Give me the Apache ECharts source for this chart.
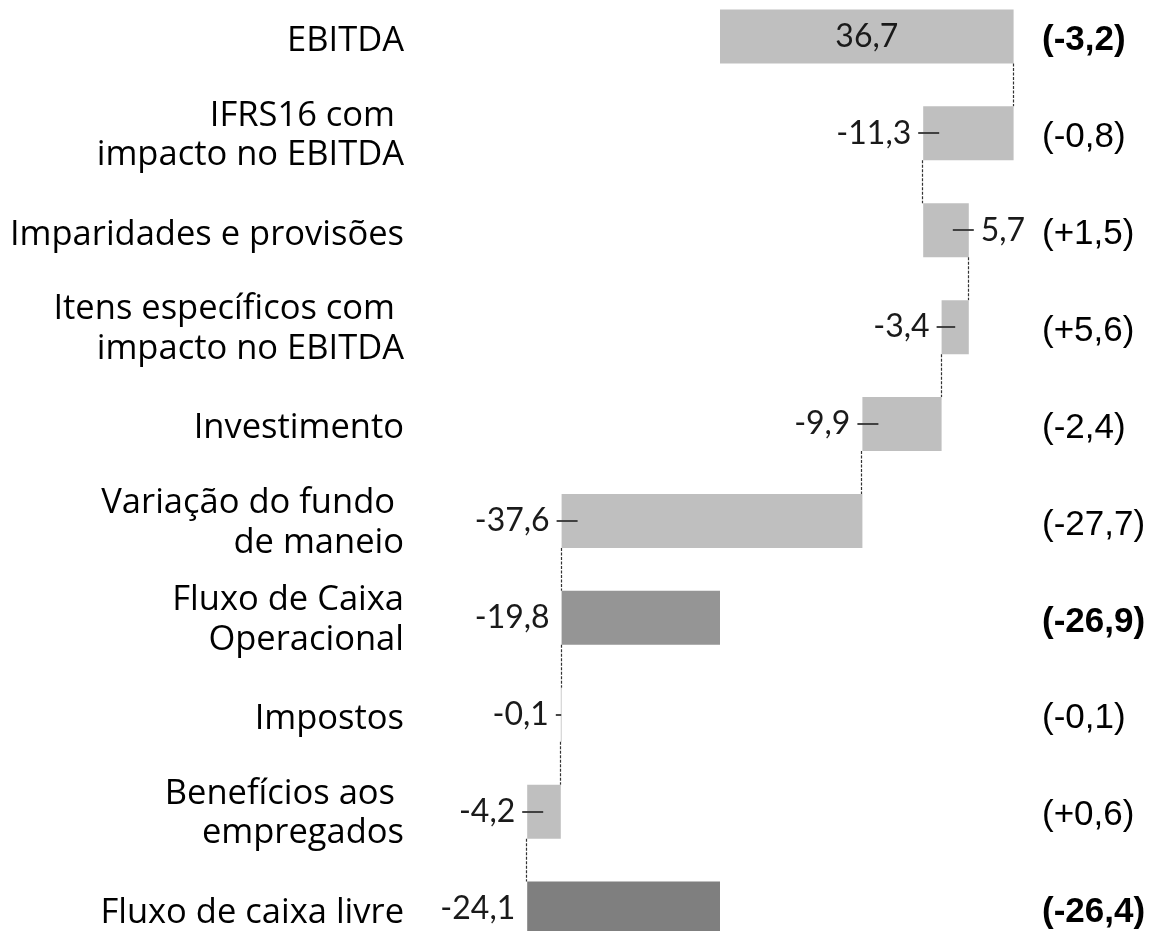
<!DOCTYPE html>
<html><head><meta charset="utf-8">
<script src="https://cdn.jsdelivr.net/npm/echarts@6/dist/echarts.min.js"></script>
<style>html,body{margin:0;padding:0;background:#fff}#c{width:1156px;height:931px}</style>
</head><body><div id="c"></div>
<script>
// ---- data ----
const categories = [
  'EBITDA',
  'IFRS16 com \nimpacto no EBITDA',
  'Imparidades e provisões',
  'Itens específicos com \nimpacto no EBITDA',
  'Investimento',
  'Variação do fundo \nde maneio',
  'Fluxo de Caixa\nOperacional',
  'Impostos',
  'Benefícios aos \nempregados',
  'Fluxo de caixa livre'
];
const values = [36.7, -11.3, 5.7, -3.4, -9.9, -37.6, -19.8, -0.1, -4.2, -24.1];
const isTotal = [true, false, false, false, false, false, true, false, false, true];
const changeLabels = ['(-3,2)', '(-0,8)', '(+1,5)', '(+5,6)', '(-2,4)', '(-27,7)', '(-26,9)', '(-0,1)', '(+0,6)', '(-26,4)'];

// ---- styles ----
const barColors = ['#bfbfbf', '#bfbfbf', '#bfbfbf', '#bfbfbf', '#bfbfbf', '#bfbfbf', '#959595', '#bfbfbf', '#bfbfbf', '#7f7f7f'];

// waterfall ranges
const seriesData = [];
let running = 0;
values.forEach((v, i) => {
  let s, e;
  if (isTotal[i]) { s = 0; e = v; } else { s = running; e = running + v; }
  running = e;
  seriesData.push([i, s, e]);
});
const fmt = v => v.toFixed(1).replace('.', ',');

const BAR_H = 54;
function renderItem(params, api) {
  const idx = api.value(0), s = api.value(1), e = api.value(2);
  const c0 = api.coord([s, idx]), c1 = api.coord([e, idx]);
  const cy = c0[1];
  const x0 = Math.min(c0[0], c1[0]), x1 = Math.max(c0[0], c1[0]);
  const w = Math.max(x1 - x0, 0.8);
  const children = [];
  children.push({type: 'rect', shape: {x: x0, y: cy - BAR_H / 2, width: w, height: BAR_H},
    style: {fill: barColors[idx]}});
  const v = values[idx];
  const txtStyle = {text: fmt(v), fontFamily: 'Lato', fontSize: 32, fill: '#1a1a1a', verticalAlign: 'middle'};
  if (isTotal[idx] && v > 0) {
    children.push({type: 'text', style: Object.assign({}, txtStyle, {x: (x0 + x1) / 2, y: cy, align: 'center'})});
  } else {
    const dir = v >= 0 ? 1 : -1;
    const edge = c1[0];
    children.push({type: 'text', style: Object.assign({}, txtStyle, {x: edge + dir * 12, y: cy, align: dir > 0 ? 'left' : 'right'})});
    if (!isTotal[idx]) {
      const inside = Math.min(16, w / 2);
      const ly = Math.round(cy);
      children.push({type: 'line', shape: {x1: edge + dir * 5, y1: ly, x2: edge - dir * inside, y2: ly},
        style: {stroke: '#333', lineWidth: 1.8}});
    }
  }
  if (idx < values.length - 1) {
    const ny = api.coord([0, idx + 1])[1];
    const cx = Math.round(c1[0]) - 0.5;
    children.push({type: 'line', shape: {x1: cx, y1: cy + BAR_H / 2, x2: cx, y2: ny - BAR_H / 2},
      style: {stroke: '#333', lineWidth: 1.2, lineDash: [3, 1.5]}});
  }
  return {type: 'group', children};
}

const leftFormatter = val => val.split('\n').map((l, k) => (k === 0 ? '{f|' : '{r|') + l + '}').join('\n');

const chart = echarts.init(document.getElementById('c'), null, {renderer: 'canvas'});
chart.setOption({
  animation: false,
  backgroundColor: '#fff',
  grid: {left: 432, right: 116, top: -12, bottom: -26, containLabel: false, outerBoundsMode: 'none'},
  xAxis: {type: 'value', min: -36, max: 40, show: false},
  yAxis: [
    {type: 'category', data: categories, inverse: true,
     axisLine: {show: false}, axisTick: {show: false}, splitLine: {show: false},
     axisLabel: {interval: 0, margin: 28, align: 'right', formatter: leftFormatter,
       rich: {
         f: {fontFamily: 'Open Sans', fontSize: 34.5, lineHeight: 44, color: '#000', padding: [9, 0, 0, 0], align: 'right'},
         r: {fontFamily: 'Open Sans', fontSize: 34.5, lineHeight: 44, color: '#000', align: 'right'}
       }}},
    {type: 'category', data: categories, inverse: true, position: 'right',
     axisLine: {show: false}, axisTick: {show: false}, splitLine: {show: false},
     axisLabel: {interval: 0, margin: 2, align: 'left', padding: [8, 0, 0, 0],
       formatter: (val, i) => (isTotal[i] ? '{b|' : '{n|') + changeLabels[i] + '}',
       rich: {
         b: {fontFamily: 'Liberation Sans', fontSize: 35, fontWeight: 'bold', color: '#000'},
         n: {fontFamily: 'Liberation Sans', fontSize: 35, color: '#000'}
       }}}
  ],
  series: [{
    type: 'custom', renderItem, data: seriesData,
    encode: {x: [1, 2], y: 0}, clip: false
  }]
});
</script></body></html>
